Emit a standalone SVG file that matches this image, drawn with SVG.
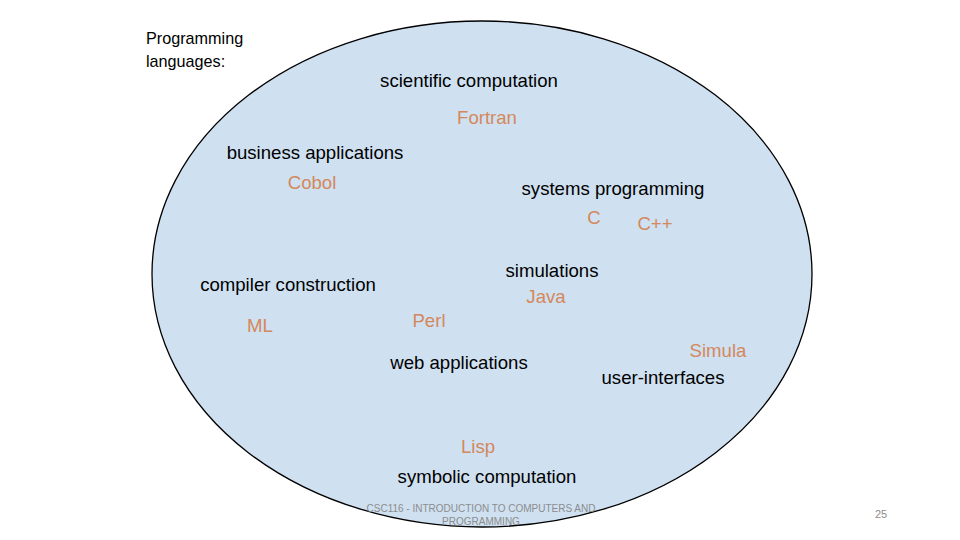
<svg xmlns="http://www.w3.org/2000/svg" width="960" height="540" viewBox="0 0 960 540">
<style>
text{font-family:"Liberation Sans",Arial,sans-serif}
.a{font-size:18.6px;fill:#000;text-anchor:middle}
.l{font-size:18.6px;fill:#d4885b;text-anchor:middle}
.t{font-size:16.2px;fill:#000}
.f{font-size:10px;fill:#8c8c8c;text-anchor:middle}
</style>
<rect width="960" height="540" fill="#fff"/>
<g id="title">
<text class="t" x="146" y="44">Programming</text>
<text class="t" x="146" y="67">languages:</text>
</g>
<g id="set">
<ellipse cx="482" cy="274" rx="330" ry="253" fill="#cfe0f1" stroke="#000" stroke-width="1.3"/>
</g>
<g id="scientific">
<text class="a" x="469" y="87">scientific computation</text>
<text class="l" x="487" y="124">Fortran</text>
</g>
<g id="business">
<text class="a" x="315" y="159">business applications</text>
<text class="l" x="312" y="189">Cobol</text>
</g>
<g id="systems">
<text class="a" x="613" y="195">systems programming</text>
<text class="l" x="594" y="224">C</text>
<text class="l" x="655" y="230">C++</text>
</g>
<g id="simulations">
<text class="a" x="552" y="277">simulations</text>
<text class="l" x="546" y="303">Java</text>
</g>
<g id="compiler">
<text class="a" x="288" y="291">compiler construction</text>
<text class="l" x="260" y="332">ML</text>
</g>
<g id="web">
<text class="l" x="429" y="327">Perl</text>
<text class="a" x="459" y="369">web applications</text>
</g>
<g id="ui">
<text class="l" x="718" y="357">Simula</text>
<text class="a" x="663" y="384">user-interfaces</text>
</g>
<g id="symbolic">
<text class="l" x="478" y="453">Lisp</text>
<text class="a" x="487" y="483">symbolic computation</text>
</g>
<g id="footer">
<text class="f" x="481" y="512">CSC116  - INTRODUCTION TO COMPUTERS AND</text>
<text class="f" x="481" y="525">PROGRAMMING</text>
<text class="f" x="881" y="518" style="font-size:11px">25</text>
</g>
<g id="connectors"></g>
</svg>
